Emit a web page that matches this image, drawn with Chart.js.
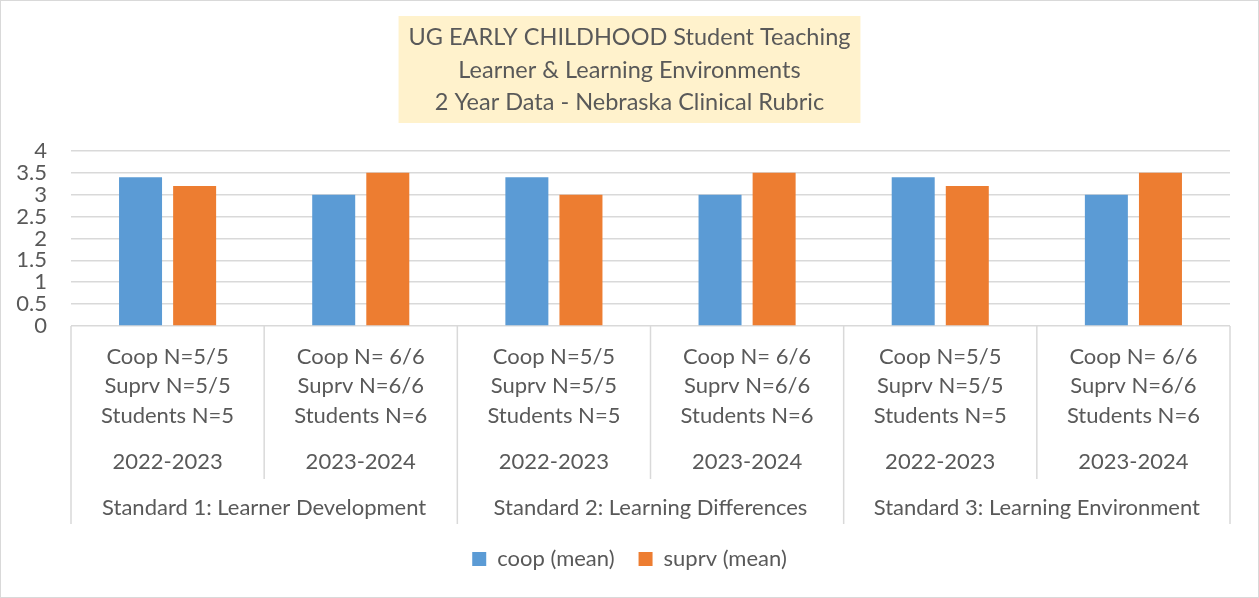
<!DOCTYPE html>
<html>
<head>
<meta charset="utf-8">
<title>UG Early Childhood Student Teaching</title>
<script src="https://cdn.jsdelivr.net/npm/chart.js@4/dist/chart.umd.min.js"></script>
<style>
  html, body { margin: 0; padding: 0; background: #fff; }
  canvas { display: block; }
</style>
</head>
<body>
<canvas id="rubricChart" width="1259" height="598"></canvas>
<script>
// Data
const titleLines = [
    'UG EARLY CHILDHOOD Student Teaching',
    'Learner & Learning Environments',
    '2 Year Data - Nebraska Clinical Rubric',
];
const countLabels = [
    ['Coop N=5/5', 'Suprv N=5/5', 'Students N=5'],
    ['Coop N= 6/6', 'Suprv N=6/6', 'Students N=6'],
    ['Coop N=5/5', 'Suprv N=5/5', 'Students N=5'],
    ['Coop N= 6/6', 'Suprv N=6/6', 'Students N=6'],
    ['Coop N=5/5', 'Suprv N=5/5', 'Students N=5'],
    ['Coop N= 6/6', 'Suprv N=6/6', 'Students N=6'],
];
const yearLabels = ['2022-2023', '2023-2024', '2022-2023', '2023-2024', '2022-2023', '2023-2024'];
const standardLabels = [
    'Standard 1: Learner Development',
    'Standard 2: Learning Differences',
    'Standard 3: Learning Environment',
];
const coopMean = [3.4, 3.0, 3.4, 3.0, 3.4, 3.0];
const suprvMean = [3.2, 3.5, 3.0, 3.5, 3.2, 3.5];

const textColor = '#595959';
const lineColor = '#D9D9D9';
const fontFamily = 'Lato, "Open Sans", sans-serif';
const titleSize = 23.5;
const labelSize = 22;

// Light yellow box behind the title
const titleBoxPlugin = {
    id: 'titleBox',
    beforeDraw(chart) {
        const ctx = chart.ctx;
        const t = chart.titleBlock;
        ctx.save();
        ctx.font = `${titleSize}px ${fontFamily}`;
        const w = Math.max(...titleLines.map(s => ctx.measureText(s).width));
        const cx = (t.left + t.right) / 2;
        const top = t.top + t.options.padding.top - 5;
        const bottom = t.bottom - t.options.padding.bottom + 4;
        ctx.fillStyle = '#FFF2CC';
        ctx.fillRect(cx - w / 2 - 10, top, w + 20, bottom - top);
        ctx.restore();
    },
};

// Separators of the multi-level category axis + outer chart border
const axisFramePlugin = {
    id: 'axisFrame',
    afterDraw(chart) {
        const ctx = chart.ctx;
        const x = chart.scales.x;
        const x1 = chart.scales.x1;
        const x2 = chart.scales.x2;
        ctx.save();
        ctx.strokeStyle = lineColor;
        ctx.lineWidth = 1.5;
        for (let i = 0; i <= countLabels.length; i++) {
            let px;
            if (i === 0) px = x.left;
            else if (i === countLabels.length) px = x.right;
            else px = (x.getPixelForValue(i - 1) + x.getPixelForValue(i)) / 2;
            const bottom = i % 2 === 0 ? x2.bottom : x1.bottom;
            ctx.beginPath();
            ctx.moveTo(px, x.top);
            ctx.lineTo(px, bottom);
            ctx.stroke();
        }
        ctx.lineWidth = 1;
        ctx.strokeRect(0.5, 0.5, chart.width - 1, chart.height - 1);
        ctx.restore();
    },
};

const ctx = document.getElementById('rubricChart').getContext('2d');
new Chart(ctx, {
    type: 'bar',
    data: {
        labels: countLabels,
        datasets: [
            {
                label: 'coop (mean)',
                data: coopMean,
                backgroundColor: '#5B9BD5',
                categoryPercentage: 0.56,
                barPercentage: 0.795,
            },
            {
                label: 'suprv (mean)',
                data: suprvMean,
                backgroundColor: '#ED7D31',
                categoryPercentage: 0.56,
                barPercentage: 0.795,
            },
        ],
    },
    options: {
        responsive: false,
        animation: false,
        devicePixelRatio: 1,
        layout: { padding: { left: 0, right: 0, top: 0, bottom: 18 } },
        plugins: {
            title: {
                display: true,
                text: titleLines,
                color: textColor,
                font: { family: fontFamily, size: titleSize, weight: 'normal', lineHeight: 1.39 },
                padding: { top: 21, bottom: 32 },
            },
            legend: {
                position: 'bottom',
                labels: {
                    color: textColor,
                    font: { family: fontFamily, size: labelSize },
                    boxWidth: 14,
                    boxHeight: 14,
                    padding: 24,
                },
            },
            tooltip: { enabled: false },
        },
        scales: {
            y: {
                min: 0,
                max: 4,
                ticks: {
                    stepSize: 0.5,
                    autoSkip: false,
                    color: textColor,
                    font: { family: fontFamily, size: labelSize },
                    padding: 24,
                    callback: (v) => String(+v.toFixed(1)),
                },
                grid: { color: lineColor, lineWidth: 1.5, drawTicks: false },
                border: { display: false },
                afterFit: (s) => { s.width = 71; },
            },
            // empty right margin so title and legend stay centred on the whole chart
            yRight: {
                position: 'right',
                ticks: { display: false },
                grid: { display: false },
                border: { display: false },
                afterFit: (s) => { s.width = 29; },
            },
            x: {
                weight: 1,
                ticks: {
                    color: textColor,
                    font: { family: fontFamily, size: labelSize, lineHeight: 1.34 },
                    padding: 8,
                    maxRotation: 0,
                    autoSkip: false,
                },
                grid: { display: false },
                border: { display: false },
                afterFit: (s) => { s.height = 110; },
            },
            x1: {
                type: 'category',
                position: 'bottom',
                weight: 2,
                labels: yearLabels,
                offset: true,
                ticks: {
                    color: textColor,
                    font: { family: fontFamily, size: labelSize },
                    padding: 5,
                    maxRotation: 0,
                    autoSkip: false,
                },
                grid: { display: false },
                border: { display: false },
                afterFit: (s) => { s.height = 43; },
            },
            x2: {
                type: 'category',
                position: 'bottom',
                weight: 3,
                labels: standardLabels,
                offset: true,
                ticks: {
                    color: textColor,
                    font: { family: fontFamily, size: labelSize },
                    padding: 8,
                    maxRotation: 0,
                    autoSkip: false,
                },
                grid: { display: false },
                border: { display: false },
                afterFit: (s) => { s.height = 45; },
            },
        },
    },
    plugins: [titleBoxPlugin, axisFramePlugin],
});
</script>
</body>
</html>
